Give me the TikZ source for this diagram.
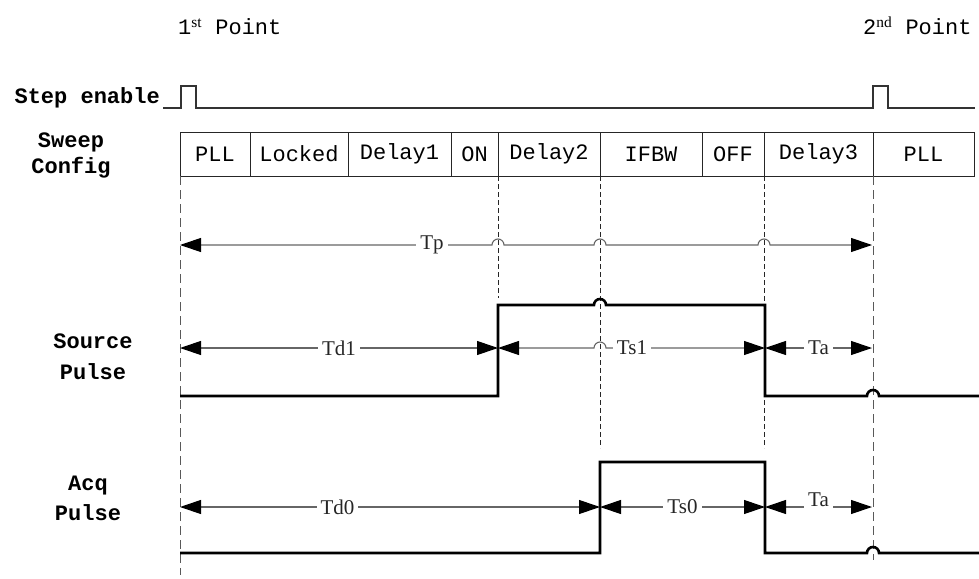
\documentclass[tikz,border=0pt]{standalone}
\usepackage{fontspec}
\setmainfont{Liberation Serif}
\setmonofont{Liberation Mono}
\usetikzlibrary{arrows.meta,positioning}

\tikzset{
  cell/.style={draw=black!85,line width=0.9pt,minimum height=44pt,inner sep=0pt,outer sep=0pt,font=\ttfamily\fontsize{22}{26}\selectfont},
  sig/.style={line width=2.6pt,line join=miter},
  dim/.style={draw=black!60,line width=1.1pt,{Triangle[length=21pt,width=14pt,color=black]}-{Triangle[length=21pt,width=14pt,color=black]}},
  tlbl/.style={fill=white,inner sep=4pt,text=black!85,font=\fontsize{21}{22}\selectfont},
  sname/.style={font=\ttfamily\bfseries\fontsize{22}{27}\selectfont,align=center},
  longdash/.style={draw=black!65,line width=1pt,dash pattern=on 9pt off 5pt},
  shortdash/.style={draw=black!85,line width=0.9pt,dash pattern=on 5pt off 3pt}
}

\begin{document}
\begin{tikzpicture}[x=1pt,y=-1pt]
\useasboundingbox (0,0) rectangle (979,578);

% points
\node[font=\ttfamily\fontsize{22}{26}\selectfont,inner sep=0pt,anchor=base west] (pt1) at (178,35) {1\textsuperscript{\rmfamily st} Point};
\node[font=\ttfamily\fontsize{22}{26}\selectfont,inner sep=0pt,anchor=base west] (pt2) at (863,35) {2\textsuperscript{\rmfamily nd} Point};

% step enable
\node[sname,inner sep=0pt,anchor=base east] (step) at (160,103) {Step enable};
\draw[draw=black!80,line width=1.2pt] (163,108) -- (181,108) -- (181,86) -- (196,86) -- (196,108)
  -- (873,108) -- (873,86) -- (888,86) -- (888,108) -- (975,108);

% sweep config
\node[sname,font=\ttfamily\bfseries\fontsize{22}{26}\selectfont] (sweep) at (71,155) {Sweep\\Config};
\node[cell,minimum width=70pt,anchor=west] (c1) at (180,154) {PLL};
\node[cell,minimum width=98pt,right=0pt of c1] (c2) {Locked};
\node[cell,minimum width=103pt,right=0pt of c2] (c3) {Delay1};
\node[cell,minimum width=47pt,right=0pt of c3] (c4) {ON};
\node[cell,minimum width=102pt,right=0pt of c4] (c5) {Delay2};
\node[cell,minimum width=102pt,right=0pt of c5] (c6) {IFBW};
\node[cell,minimum width=62pt,right=0pt of c6] (c7) {OFF};
\node[cell,minimum width=109pt,right=0pt of c7] (c8) {Delay3};
\node[cell,minimum width=101pt,right=0pt of c8] (c9) {PLL};

% guide lines
\draw[longdash] (c1.south west) -- (180,575);
\draw[longdash] (c9.south west) -- (873,560);
\draw[shortdash] (c5.south west) -- (498,298);
\draw[shortdash] (c6.south west) -- (600,448);
\draw[shortdash] (c8.south west) -- (764,448);

% Tp
\coordinate (tpa) at (180,245);
\coordinate (tpb) at (872,245);
\draw[dim] (tpa) -- (492,245) arc[start angle=180,end angle=0,radius=6pt]
  -- (594,245) arc[start angle=180,end angle=0,radius=6pt]
  -- (758,245) arc[start angle=180,end angle=0,radius=6pt] -- (tpb);
\node[tlbl] (tp) at (432,245) {Tp};

% source pulse
\node[sname,font=\ttfamily\bfseries\fontsize{22}{31}\selectfont] (src) at (93,357) {Source\\Pulse};
\draw[sig] (180,396) -- (498,396) -- (498,305) -- (594,305) arc[start angle=180,end angle=0,radius=6pt]
  -- (765,305) -- (765,396) -- (867,396) arc[start angle=180,end angle=0,radius=6pt] -- (979,396);
\coordinate (s0) at (180,348);
\coordinate (s1) at (498,348);
\coordinate (s2) at (765,348);
\coordinate (s3) at (872,348);
\draw[dim] (s0) -- node[tlbl] (td1) {Td1} (s1);
\draw[dim] (s1) -- (594,348) arc[start angle=180,end angle=0,radius=6pt] -- (s2);
\node[tlbl] (ts1) at (632,348) {Ts1};
\draw[dim] (s2) -- node[tlbl] (ta1) {Ta} (s3);

% acq pulse
\node[sname,font=\ttfamily\bfseries\fontsize{22}{30}\selectfont] (acq) at (88,498) {Acq\\Pulse};
\draw[sig] (180,553) -- (600,553) -- (600,462) -- (765,462) -- (765,553)
  -- (867,553) arc[start angle=180,end angle=0,radius=6pt] -- (979,553);
\coordinate (a0) at (180,507);
\coordinate (a1) at (600,507);
\coordinate (a2) at (765,507);
\coordinate (a3) at (872,507);
\draw[dim] (a0) -- node[tlbl,pos=0.375] (td0) {Td0} (a1);
\draw[dim] (a1) -- node[tlbl] (ts0) {Ts0} (a2);
\draw[dim] (a2) -- node[tlbl,yshift=7pt] (ta0) {Ta} (a3);
\end{tikzpicture}
\end{document}
